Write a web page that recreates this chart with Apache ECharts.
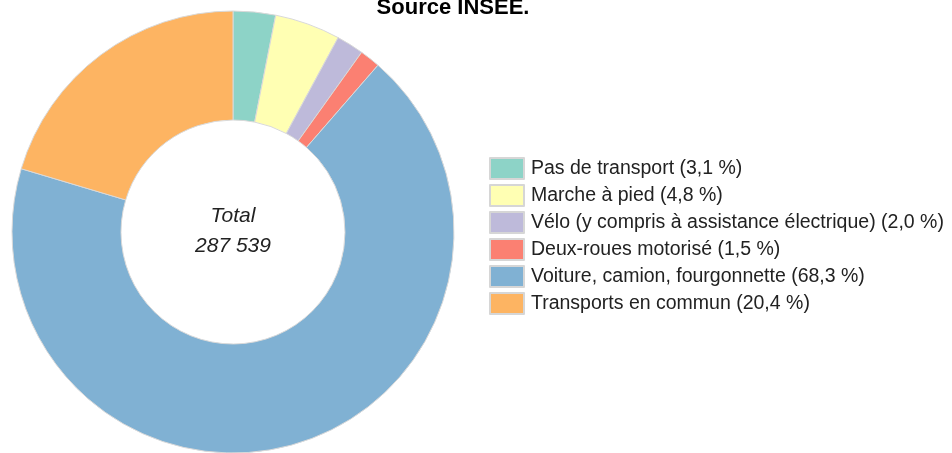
<!DOCTYPE html>
<html><head><meta charset="utf-8">
<script src="https://cdn.jsdelivr.net/npm/echarts@6/dist/echarts.min.js"></script>
<style>html,body{margin:0;padding:0;background:#fff}#c{width:952px;height:453px}</style>
</head><body><div id="c"></div>
<script>
const categories = ["Pas de transport","Marche à pied","Vélo (y compris à assistance électrique)","Deux-roues motorisé","Voiture, camion, fourgonnette","Transports en commun"];
const shares = [3.1, 4.8, 2.0, 1.5, 68.3, 20.4];
const colors = ["#8dd3c7","#ffffb3","#bebada","#fb8072","#80b1d3","#fdb462"];
const totalLabel = "287 539";
const titleText = "Source INSEE.";

const fmt = v => v.toFixed(1).replace('.', ',');
const data = categories.map((c,i)=>({name:c, value:shares[i], itemStyle:{color:colors[i]}}));
const chart = echarts.init(document.getElementById('c'), null, {renderer:'canvas'});
chart.setOption({
  animation:false,
  title:{text:titleText, left:453, top:-3, textAlign:'center', padding:0,
    textStyle:{fontFamily:'Liberation Sans, Arial', fontWeight:'bold', fontSize:22, color:'#000'}},
  legend:{orient:'vertical', left:489, top:157, padding:0, itemWidth:34, itemHeight:21, itemGap:4,
    icon:'rect',
    itemStyle:{borderColor:'#d6d6d6', borderWidth:2},
    formatter: n => n + ' (' + fmt(shares[categories.indexOf(n)]) + ' %)',
    textStyle:{fontFamily:'Liberation Sans, Arial', fontSize:19.5, lineHeight:21, color:'#222', padding:[0,0,0,2]},
    data:categories},
  series:[{
    type:'pie', center:[233,232], radius:[112,221], startAngle:90, clockwise:true,
    label:{show:false}, labelLine:{show:false},
    itemStyle:{borderColor:'#d9d9d9', borderWidth:1},
    emphasis:{disabled:true},
    data:data
  }],
  graphic:[
    {type:'text', x:233, y:216, style:{text:'Total', align:'center', verticalAlign:'middle', font:'italic 21px "Liberation Sans", Arial', fill:'#222'}},
    {type:'text', x:233, y:246, style:{text:totalLabel, align:'center', verticalAlign:'middle', font:'italic 21px "Liberation Sans", Arial', fill:'#222'}}
  ]
});
</script></body></html>
